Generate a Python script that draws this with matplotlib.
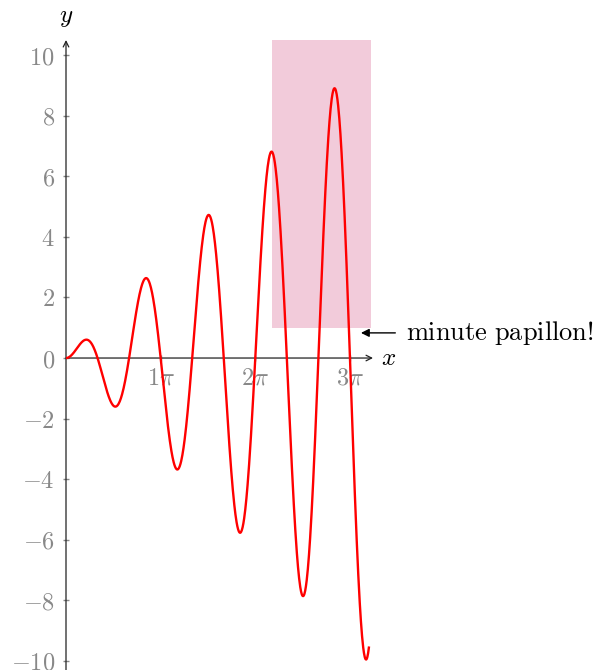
import numpy as np
import matplotlib.pyplot as plt
from matplotlib.patches import Rectangle

plt.rcParams['mathtext.fontset'] = 'cm'
plt.rcParams['font.family'] = 'serif'
plt.rcParams['font.serif'] = ['DejaVu Serif']

# plotted function y = x*sin(3x) on [0, 3.2*pi]
x_max = 3.2 * np.pi
freq = 3.0
x = np.linspace(0, x_max, 800)
y = x * np.sin(freq * x)

# highlighted box: from x=2.18*pi, y=1 up to the top of the axes
box_x0 = 2.18 * np.pi
box_y0 = 1.0

y_ticks = [-10, -8, -6, -4, -2, 0, 2, 4, 6, 8, 10]
x_ticks = [np.pi, 2 * np.pi, 3 * np.pi]
x_tick_labels = [r'$1\pi$', r'$2\pi$', r'$3\pi$']

xlim = (0, 10.19)
ylim = (-10.3, 10.5)

fig = plt.figure(figsize=(5.97, 6.70), dpi=100)
ax = fig.add_axes([66 / 597, 0.0, (373 - 66) / 597, (670 - 40) / 670])
ax.set_xlim(*xlim)
ax.set_ylim(*ylim)

ax.add_patch(Rectangle((box_x0, box_y0), xlim[1] - box_x0 - 0.05, ylim[1] - box_y0,
                       facecolor='#f2cbda', edgecolor='none', zorder=0))
ax.plot(x, y, color='red', lw=1.7, zorder=3)

for s in ['top', 'right', 'left', 'bottom']:
    ax.spines[s].set_visible(False)

# axes with arrow heads
ax.annotate('', xy=(xlim[1], 0), xytext=(0, 0),
            arrowprops=dict(arrowstyle='->', color='#222222', lw=0.9, shrinkA=0, shrinkB=0),
            annotation_clip=False, zorder=2)
ax.annotate('', xy=(0, ylim[1]), xytext=(0, ylim[0] - 0.5),
            arrowprops=dict(arrowstyle='->', color='#222222', lw=0.9, shrinkA=0, shrinkB=0),
            annotation_clip=False, zorder=2)

ax.set_xticks(x_ticks)
ax.set_xticklabels(x_tick_labels)
ax.set_yticks(y_ticks)
ax.set_yticklabels([r'$%d$' % v for v in y_ticks])
ax.tick_params(axis='both', colors='#888888', labelcolor='#888888', labelsize=17.5,
               direction='inout', length=4, width=1)
ax.tick_params(axis='x', pad=4)
ax.tick_params(axis='y', pad=6)
ax.spines['bottom'].set_position(('data', 0))
ax.spines['left'].set_position(('data', 0))

ax.text(0, ylim[1] + 0.35, r'$y$', fontsize=18, ha='center', va='bottom', clip_on=False)
ax.text(xlim[1] + 0.25, 0, r'$x$', fontsize=18, ha='left', va='center', clip_on=False)

ax.annotate(r'$\mathrm{minute\ papillon!}$', xy=(9.79, 0.83), xytext=(11.3, 0.83),
            fontsize=19, va='center', ha='left',
            arrowprops=dict(arrowstyle='-|>', color='black', lw=1.0, shrinkA=6, shrinkB=0,
                            mutation_scale=12),
            annotation_clip=False)

fig.savefig('out.png', dpi=100)
